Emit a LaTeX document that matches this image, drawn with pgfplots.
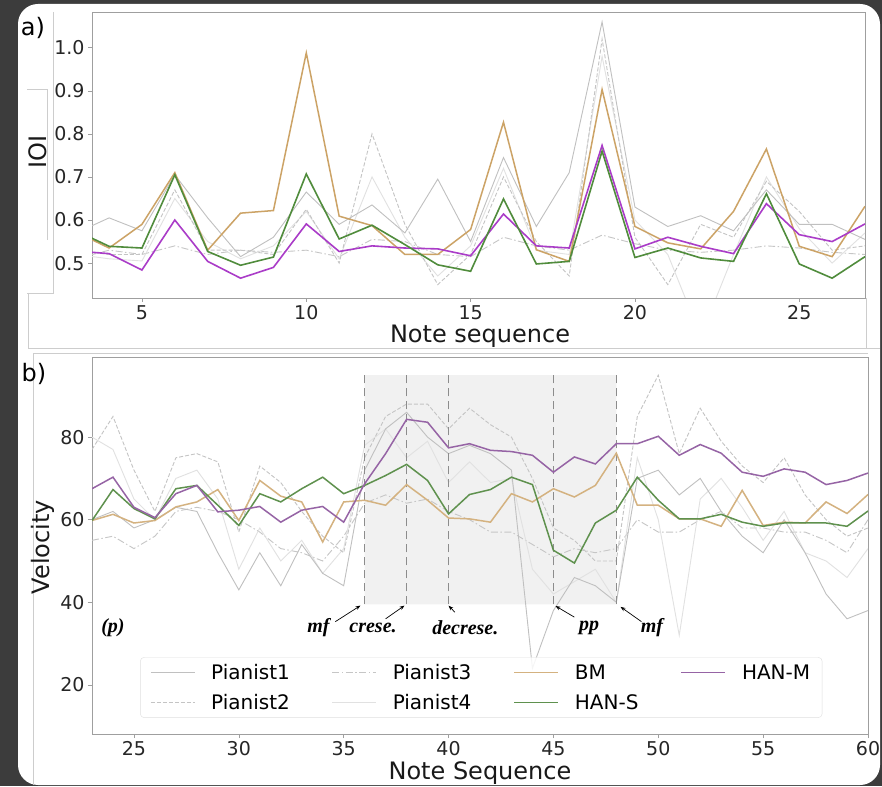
\documentclass[border=0pt]{standalone}
\usepackage{fontspec}
\setmainfont{DejaVu Sans}
\newfontfamily\annfont{Liberation Serif}
\usepackage{pgfplots}
\usepackage{pgfplotstable}
\pgfplotsset{compat=1.18}
\usetikzlibrary{arrows.meta}

\definecolor{bgdark}{RGB}{60,60,60}
\definecolor{frameline}{RGB}{205,205,205}
\definecolor{pone}{RGB}{192,192,192}
\definecolor{ptwo}{RGB}{196,196,196}
\definecolor{pthree}{RGB}{198,198,198}
\definecolor{pfour}{RGB}{225,225,225}
\definecolor{bma}{RGB}{204,163,102}
\definecolor{hsa}{RGB}{80,140,60}
\definecolor{hma}{RGB}{170,60,200}
\definecolor{bmb}{RGB}{212,178,128}
\definecolor{hsb}{RGB}{95,145,78}
\definecolor{hmb}{RGB}{150,100,165}
\definecolor{shade}{RGB}{241,241,241}

% IOI per note (panel a)
\pgfplotstableread{
x  p1    p2    p3    p4    bm    hs    hm
3  0.570 0.530 0.510 0.520 0.572 0.575 0.528
4  0.605 0.520 0.530 0.510 0.535 0.539 0.522
5  0.575 0.520 0.520 0.505 0.590 0.535 0.484
6  0.705 0.670 0.540 0.650 0.710 0.705 0.600
7  0.605 0.530 0.520 0.550 0.530 0.527 0.504
8  0.515 0.530 0.530 0.510 0.616 0.495 0.465
9  0.560 0.520 0.525 0.540 0.622 0.514 0.490
10 0.665 0.625 0.530 0.620 0.988 0.707 0.591
11 0.590 0.500 0.515 0.510 0.609 0.556 0.527
12 0.635 0.800 0.555 0.700 0.587 0.588 0.540
13 0.570 0.590 0.550 0.560 0.520 0.543 0.535
14 0.695 0.450 0.520 0.470 0.520 0.496 0.533
15 0.550 0.520 0.515 0.540 0.578 0.481 0.517
16 0.745 0.700 0.560 0.720 0.827 0.649 0.614
17 0.585 0.550 0.540 0.530 0.531 0.498 0.540
18 0.710 0.470 0.530 0.520 0.504 0.504 0.535
19 1.060 1.020 0.565 0.980 0.903 0.760 0.773
20 0.630 0.560 0.545 0.600 0.585 0.513 0.533
21 0.585 0.450 0.530 0.520 0.547 0.535 0.560
22 0.610 0.590 0.525 0.330 0.533 0.512 0.539
23 0.575 0.560 0.530 0.520 0.620 0.504 0.522
24 0.670 0.690 0.540 0.700 0.765 0.661 0.638
25 0.590 0.620 0.535 0.580 0.539 0.498 0.566
26 0.590 0.530 0.525 0.500 0.515 0.465 0.550
27 0.555 0.540 0.520 0.570 0.632 0.515 0.591
}\ioitab

% velocity per note (panel b)
\pgfplotstableread{
x  p1 p2 p3 p4 bm   hs   hm
23 60 77 55 80 59.8 59.8 67.5
24 62 85 56 77 61.3 67.3 70.3
25 58 72 53 65 59.2 62.7 63.0
26 60 62 56 60 59.8 60.2 60.5
27 63 75 62 70 63.1 67.5 66.3
28 62 76 63 72 64.3 68.3 68.3
29 52 74 62 65 67.3 63.5 61.9
30 43 57 60 48 59.8 58.6 62.3
31 52 73 57 58 69.5 66.3 63.2
32 44 69 53 50 65.7 64.3 59.4
33 54 62 52 55 64.3 67.5 62.3
34 47 56 50 47 54.6 70.3 63.2
35 44 52 56 53 64.3 66.3 59.4
36 72 75 64 78 64.7 68.3 68.7
37 82 85 66 82 63.5 70.7 76.0
38 86 88 64 75 68.5 73.4 84.3
39 80 88 65 79 64.7 69.5 83.6
40 76 82 62 69 60.4 61.4 77.4
41 78 87 60 74 60.2 66.1 78.4
42 76 83 57 69 59.4 67.3 76.8
43 72 80 57 70 66.3 70.3 76.5
44 24 70 54 48 64.3 68.5 75.6
45 38 58 51 42 67.5 52.6 71.5
46 46 55 53 45 65.5 49.5 75.2
47 44 50 52 48 68.3 59.2 73.5
48 40 50 53 40 76.1 62.3 78.4
49 70 85 60 75 63.5 70.3 78.4
50 72 95 57 60 63.5 64.7 80.2
51 66 76 57 32 60.2 60.2 75.6
52 70 87 60 65 60.2 60.2 78.2
53 62 79 62 70 58.4 61.3 76.1
54 56 73 58 63 67.1 59.4 71.5
55 52 69 58 55 58.6 58.4 70.5
56 60 75 57 62 59.4 59.2 72.3
57 52 66 57 52 59.2 59.2 71.5
58 42 60 55 50 64.3 59.2 68.5
59 36 56 52 46 61.5 58.4 69.5
60 38 58 60 53 66.1 62.1 71.3
}\veltab

\pgfplotsset{
  panel/.style={
    scale only axis, anchor=south west,
    axis line style={draw=gray!75, line width=0.8pt},
    tick align=outside, tick pos=left,
    major tick length=4pt,
    major tick style={draw=gray!75, line width=0.6pt},
    /pgf/number format/assume math mode=true,
    tick label style={font=\fontsize{19}{22}\selectfont, text=black!85},
    label style={font=\fontsize{24}{28}\selectfont, text=black!90},
  },
  vmark/.style={draw=gray!90, line width=1pt, dash pattern=on 8pt off 5pt, forget plot},
}
\tikzset{
  pian1/.style={draw=pone, line width=0.9pt},
  pian2/.style={draw=ptwo, line width=0.9pt, dash pattern=on 4pt off 2pt},
  pian3/.style={draw=pthree, line width=0.9pt, dash pattern=on 7pt off 2.5pt on 1.5pt off 2.5pt},
  pian4/.style={draw=pfour, line width=0.9pt},
  bmline/.style={color=bmb, line width=1.5pt},
  hsline/.style={color=hsb, line width=1.5pt},
  hmline/.style={color=hmb, line width=1.5pt},
  dyn/.style={font=\annfont\bfseries\itshape\fontsize{20}{22}\selectfont},
  dynarrow/.style={-{Stealth[length=5pt]}, line width=0.7pt},
}

\begin{document}
\begin{tikzpicture}
\useasboundingbox (0,0) rectangle (882pt,786pt);
\fill[bgdark] (0,0) rectangle (882pt,786pt);
\begin{scope}[yshift=786pt, x=1pt, y=-1pt]
  \fill[white, rounded corners=20pt] (18,4) rectangle (880,785);
  \draw[frameline, line width=0.7pt] (53,12) -- (53,293) -- (27,293);
  \draw[frameline, line width=0.7pt] (27,89) -- (47,89) -- (47,240);
  \draw[frameline, line width=0.7pt] (28,293) -- (28,348) -- (880,348);
  \draw[frameline, line width=0.7pt] (866,298) -- (866,348);
  \draw[frameline, line width=0.7pt] (33,785) -- (33,353) -- (868,353);
  \node[font=\fontsize{24}{28}\selectfont] at (33,28) {a)};
  \node[font=\fontsize{24}{28}\selectfont] at (34,374) {b)};
\end{scope}

% panel a: IOI
\begin{axis}[panel,
  at={(92pt,488pt)}, width=773pt, height=286pt,
  xmin=3.48, xmax=27, ymin=0.419, ymax=1.083,
  xtick={5,10,15,20,25}, ytick={0.5,0.6,0.7,0.8,0.9,1.0},
  yticklabel style={/pgf/number format/fixed, /pgf/number format/precision=1, /pgf/number format/fixed zerofill},
  xlabel={Note sequence}, ylabel={IOI},
  xlabel style={at={(rel axis cs:0.502,-0.133)}, anchor=center},
  ylabel style={at={(rel axis cs:-0.07,0.51)}, anchor=center},
]
\addplot[pian3] table[x=x,y=p3] {\ioitab};
\addplot[pian4] table[x=x,y=p4] {\ioitab};
\addplot[pian2] table[x=x,y=p2] {\ioitab};
\addplot[pian1] table[x=x,y=p1] {\ioitab};
\addplot[draw=bma, line width=1.5pt] table[x=x,y=bm] {\ioitab};
\addplot[draw=hma, line width=1.6pt] table[x=x,y=hm] {\ioitab};
\addplot[draw=hsa, line width=1.6pt] table[x=x,y=hs] {\ioitab};
\end{axis}

% panel b: velocity
\begin{axis}[panel,
  at={(92pt,52pt)}, width=776pt, height=377pt,
  xmin=23, xmax=60, ymin=8.1, ymax=99.4,
  xtick={25,30,...,60}, ytick={20,40,60,80},
  xlabel={Note Sequence}, ylabel={Velocity},
  xlabel style={at={(rel axis cs:0.5,-0.103)}, anchor=center},
  ylabel style={at={(rel axis cs:-0.063,0.496)}, anchor=center},
  legend columns=4, legend cell align=left,
  legend image code/.code={\draw[#1] (0pt,0pt) -- (44pt,0pt);},
  legend style={at={(0.062,0.204)}, anchor=north west,
    draw=gray!25, rounded corners=4pt, fill=white, fill opacity=0.85, text opacity=1,
    font=\fontsize{20}{24}\selectfont, inner xsep=10pt, inner ysep=5pt,
    row sep=9pt,
    /tikz/every odd column/.append style={column sep=14pt},
    /tikz/every even column/.append style={column sep=40pt}},
]
\addplot[fill=shade, draw=none, forget plot] coordinates {(36,39.5) (48,39.5) (48,95) (36,95) (36,39.5)};
\addplot[pian3, forget plot] table[x=x,y=p3] {\veltab};
\addplot[pian4, forget plot] table[x=x,y=p4] {\veltab};
\addplot[pian2, forget plot] table[x=x,y=p2] {\veltab};
\addplot[pian1, forget plot] table[x=x,y=p1] {\veltab};
\addplot[vmark] coordinates {(36,39.5) (36,95)};
\addplot[vmark] coordinates {(38,39.5) (38,95)};
\addplot[vmark] coordinates {(40,39.5) (40,95)};
\addplot[vmark] coordinates {(45,39.5) (45,95)};
\addplot[vmark] coordinates {(48,39.5) (48,95)};
\addplot[bmline, forget plot] table[x=x,y=bm] {\veltab};
\addplot[hsline, forget plot] table[x=x,y=hs] {\veltab};
\addplot[hmline, forget plot] table[x=x,y=hm] {\veltab};
% legend entries, in matplotlib column order
\addlegendimage{pian1}\addlegendentry{Pianist1}
\addlegendimage{pian3}\addlegendentry{Pianist3}
\addlegendimage{bmline}\addlegendentry{BM}
\addlegendimage{hmline}\addlegendentry{HAN-M}
\addlegendimage{pian2}\addlegendentry{Pianist2}
\addlegendimage{pian4}\addlegendentry{Pianist4}
\addlegendimage{hsline}\addlegendentry{HAN-S}
% dynamics marks
\node[dyn] at (axis cs:24.0,33.8) {(p)};
\node[dyn] at (axis cs:33.8,33.8) {mf};
\node[dyn] at (axis cs:36.4,33.8) {crese.};
\node[dyn] at (axis cs:40.8,33.8) {decrese.};
\node[dyn] at (axis cs:46.7,33.8) {pp};
\node[dyn] at (axis cs:49.7,33.8) {mf};
\draw[dynarrow] (axis cs:34.6,35.3) -- (axis cs:35.8,39.2);
\draw[dynarrow] (axis cs:37.0,36.0) -- (axis cs:37.9,39.2);
\draw[dynarrow] (axis cs:40.3,37.6) -- (axis cs:40.0,39.2);
\draw[dynarrow] (axis cs:46.0,36.4) -- (axis cs:45.1,39.1);
\draw[dynarrow] (axis cs:49.2,35.3) -- (axis cs:48.2,38.9);
\end{axis}
\end{tikzpicture}
\end{document}
